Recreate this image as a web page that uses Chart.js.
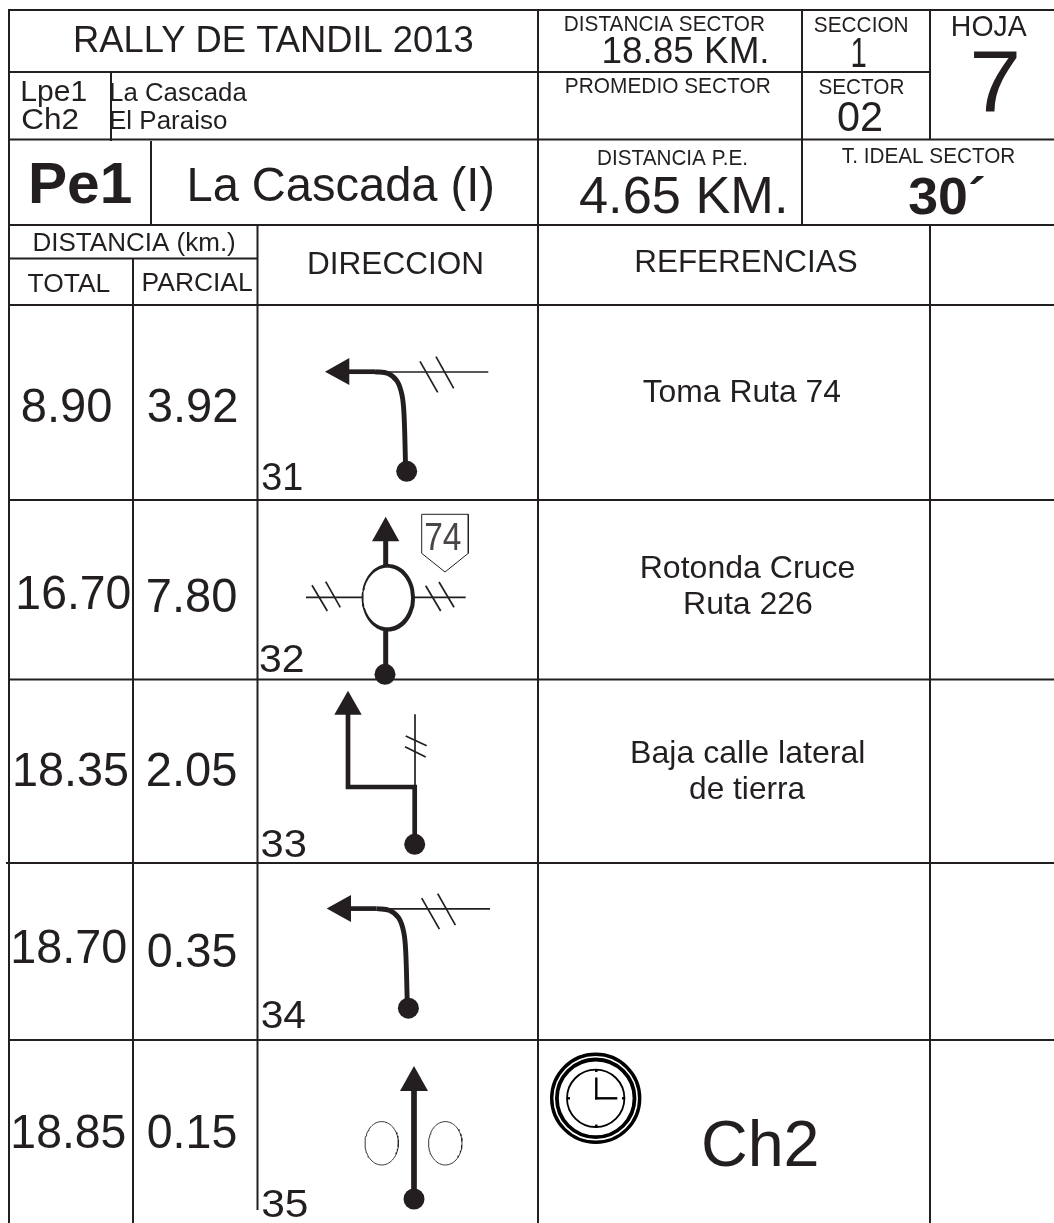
<!DOCTYPE html>
<html><head><meta charset="utf-8"><title>Rally de Tandil 2013</title>
<style>html,body{margin:0;padding:0;background:#fff}canvas{display:block}</style>
<script src="https://cdn.jsdelivr.net/npm/chart.js@4"></script>
</head><body><canvas id="c" width="1054" height="1223"></canvas>
<script>
// ---- values read from the road book ----
const distTotal   = ['8.90','16.70','18.35','18.70','18.85'];
const distParcial = ['3.92','7.80','2.05','0.35','0.15'];
const waypoints   = ['31','32','33','34','35'];
const references  = ['Toma Ruta 74','Rotonda Cruce','Ruta 226','Baja calle lateral','de tierra','Ch2'];
const headerTexts = ['RALLY DE TANDIL 2013','Lpe1','Ch2','La Cascada','El Paraiso','Pe1','La Cascada (I)'];
const columnTexts = ['DISTANCIA (km.)','TOTAL','PARCIAL','DIRECCION','REFERENCIAS'];
const sectorTexts = ['DISTANCIA SECTOR','18.85 KM.','SECCION','1','HOJA','7','PROMEDIO SECTOR','SECTOR','02','DISTANCIA P.E.','4.65 KM.','T. IDEAL SECTOR','30´'];
const routeSign   = '74';

// ---- layout: text ink [left, right, baseline, font size] ----
const INK = '#231f20';
const FONT_HEIGHT_FIX = 1.04; // Liberation capitals are a little shorter than the reference face
const distTotalPos   = [[22.7,111,421.7,45.5],[18.3,130,609,45.5],[15,127.7,786,45.5],[13.3,126,963.3,45.5],[13.3,125,1148.3,45.5]];
const distParcialPos = [[147.7,236,421.7,45.5],[147.7,236,611.7,45.5],[147.7,236,786,45.5],[147.7,236,967.3,45.5],[147.7,236,1147.7,45.5]];
const waypointPos    = [[262.3,302,490,37],[260,303,671.7,37],[261.7,305.5,856.7,37],[261.7,305.5,1028,37],[262.3,307,1216.7,37]];
const referencePos   = [[642.7,840,401.7,31],[641.7,854.3,578,31],[685,812,614.3,31],[632,863.3,763.3,31],[690,805.3,799.3,31],[704,816.7,1165.7,62]];
const headerPos      = [[75,472.5,51.7,35],[22.4,86.8,101,28.5],[22.4,77.5,129.3,28.5],[111,247,100.7,25.5],[111,226.6,129.3,25.5],[31,131,203.3,56,'bold'],[189.4,493,201,46.3]];
const columnPos      = [[34.4,235,250.7,25.4],[27.5,109.5,292.3,25.4],[143.6,252,291,25.4],[309,482,274.3,30.8],[636.3,856.5,272.3,30.5]];
const sectorPos      = [[564.8,764,31,21.3],[603.5,766.3,63.3,35.7],[813.8,907.3,31.7,20.5],[852.5,865.9,66.7,40],[952.8,1027.3,35.7,28],[973.5,1017.3,111.7,84],
                        [565.8,770,92.7,21],[818.4,904,94,20.5],[838,882,130.7,40],[598,747,164.7,21.3],[580,784,212.7,50],[841.8,1014.6,162.7,21],[909.3,984.5,214,50,'bold']];
const routeSignPos   = [425,461,550,37];

// ---- table rules [from, to, at] ----
const hRules = [[8,1054,10],[8,930,72],[8,1054,139.5],[8,1054,225],[8,258,258.5],[8,1054,305],[8,1054,500],[8,1054,679.5],[6,1054,863],[8,1054,1040]];
const vRules = [[10,1223,9],[72,141,111],[141,225,151],[258,1223,133],[225,1210,257.5],[10,1223,538],[10,225,802],[10,139.5,930],[225,1223,930]];

// ---- direction sketches ----
const p = (x,y)=>({x,y});
const pts = a => a.map(([x,y])=>p(x,y));
const shift = (a,dx,dy)=>a.map(([x,y])=>[x+dx,y+dy]);
const ellipse=(cx,cy,rx,ry)=>Array.from({length:73},(_,i)=>[cx+rx*Math.cos(i*Math.PI/36),cy+ry*Math.sin(i*Math.PI/36)]);

const turnHead  = [[325,371.7],[349.3,358],[349.3,385]];
const turnStub  = [[347,371.7],[375,371.7]];
const turnCurve = [[375,371.7],[388,373.5],[397,381],[402,395],[404,414],[405.5,463]];
const turnRoad  = [[388,372],[488.3,372]];
const turnTick1 = [[420,361.3],[437.7,392.3]];
const turnTick2 = [[436,356.7],[453.7,388.3]];
const turnDot   = [406.7,471.3];

const datasets=[];
const line=(a,w,extra={})=>datasets.push(Object.assign({data:pts(a),showLine:true,borderColor:INK,borderWidth:w,pointRadius:0,clip:false,tension:0,fill:false},extra));
const poly=(a,fillCol=INK,w=0,stroke=INK)=>datasets.push({data:pts(a.concat([a[0]])),showLine:true,borderColor:stroke,borderWidth:w,backgroundColor:fillCol,fill:'shape',pointRadius:0,clip:false,tension:0});
const dot=(c,r,fillCol=INK,bw=0)=>datasets.push({data:[p(c[0],c[1])],showLine:false,pointRadius:r,pointHoverRadius:r,pointBackgroundColor:fillCol,pointBorderColor:'#000',pointBorderWidth:bw,clip:false});

// rules
hRules.forEach(([a,b,y])=>line([[a,y],[b,y]],2));
vRules.forEach(([a,b,x])=>line([[x,a],[x,b]],2));

// 31 and 34: left turn off the crossing road
[[0,0],[1.7,536.9]].forEach(([dx,dy])=>{
  poly(shift(turnHead,dx,dy));
  line(shift(turnStub,dx,dy),4.7);
  line(shift(turnRoad,dx,dy),1.7);
  line(shift(turnCurve,dx,dy),4.9,{tension:0.35});
  line(shift(turnTick1,dx,dy),1.7);
  line(shift(turnTick2,dx,dy),1.7);
  dot(shift([turnDot],dx,dy)[0],10.5);
});

// 32: roundabout
poly([[385.7,516.7],[372,541.3],[399.3,541.3]]);
line([[385.7,540],[385.7,570]],5);
line([[385.7,628],[385.7,668]],5);
line([[306,597.3],[365,597.3]],1.7);
line([[412,597.3],[465.7,597.3]],1.7);
line([[312,585.3],[327.3,611]],1.7);
line([[325.7,581.7],[340.3,607.3]],1.7);
line([[425.7,585.7],[440.7,611]],1.7);
line([[439,582],[454,607.3]],1.7);
poly(ellipse(388.3,597.8,26.7,33.8));
poly(ellipse(387.2,597.5,23.8,29.8),'#ffffff');
dot([385,674.3],10.5);
poly([[421.7,514.3],[468.3,514.3],[468.3,553.3],[445,572],[421.7,553.3]],'#ffffff',1);

// 33: jog to the left
poly([[348,690.7],[334.3,714.7],[361.7,714.7]]);
line([[415,714.3],[415,787]],1.7);
line([[405.7,736],[426.7,745.7]],1.7);
line([[405,746.7],[425.7,757]],1.7);
line([[348,713],[348,787],[414.7,787],[414.7,838]],4.7,{borderJoinStyle:'miter'});
dot([414.7,844.3],10.5);

// 35: straight between two islands
poly([[414,1066],[400,1091],[428,1091]]);
line([[414,1089],[414,1199]],5.7);
dot([414,1199],10.5);
line(ellipse(381.7,1143.3,16.7,21.7),0.9);
line(ellipse(445.3,1143.3,16.7,21.7),0.9);

// clock
dot([595.7,1098.3],44,'transparent',3.4);
dot([595.7,1098.3],38.8,'transparent',3.8);
dot([595.7,1098.3],28.7,'transparent',1.8);
const clockInk={borderColor:'#000'};
line([[596.3,1077.5],[596.3,1099.5]],2.4,clockInk);
line([[595.1,1098.3],[617.3,1098.3]],2.4,clockInk);
line([[596.3,1069],[596.3,1072]],2.4,clockInk);
line([[596.3,1124.5],[596.3,1128]],2.4,clockInk);
line([[567,1098.3],[570,1098.3]],2.4,clockInk);
line([[622,1098.3],[625,1098.3]],2.4,clockInk);

datasets.forEach((d,i)=>{d.order=-i;});

const textPlugin={id:'roadbookText',afterDatasetsDraw(chart){
  const {ctx,scales:{x,y}}=chart;
  const put=(txt,pos,color=INK)=>{
    const [l,r,b,size,weight]=pos;
    ctx.save();
    ctx.font=(weight?weight+' ':'')+(size*FONT_HEIGHT_FIX)+'px "Liberation Sans", Arial, sans-serif';
    ctx.fillStyle=color;ctx.textAlign='left';ctx.textBaseline='alphabetic';
    const m=ctx.measureText(txt);
    const ink=m.actualBoundingBoxLeft+m.actualBoundingBoxRight;
    const px0=x.getPixelForValue(l),px1=x.getPixelForValue(r);
    const sx=(px1-px0)/ink;
    ctx.translate(px0+m.actualBoundingBoxLeft*sx,y.getPixelForValue(b));
    ctx.scale(sx,1);
    ctx.fillText(txt,0,0);
    ctx.restore();
  };
  distTotal.forEach((t,i)=>put(t,distTotalPos[i]));
  distParcial.forEach((t,i)=>put(t,distParcialPos[i]));
  waypoints.forEach((t,i)=>put(t,waypointPos[i]));
  references.forEach((t,i)=>put(t,referencePos[i]));
  headerTexts.forEach((t,i)=>put(t,headerPos[i]));
  columnTexts.forEach((t,i)=>put(t,columnPos[i]));
  sectorTexts.forEach((t,i)=>put(t,sectorPos[i]));
  put(routeSign,routeSignPos,'#4a4647');
}};

new Chart(document.getElementById('c'),{
  type:'scatter',
  data:{datasets},
  options:{
    responsive:false,animation:false,events:[],
    layout:{padding:0,autoPadding:false},
    plugins:{legend:{display:false},tooltip:{enabled:false}},
    scales:{
      x:{type:'linear',min:0,max:1054,display:false},
      y:{type:'linear',min:0,max:1223,reverse:true,display:false}
    }
  },
  plugins:[textPlugin]
});
</script></body></html>
